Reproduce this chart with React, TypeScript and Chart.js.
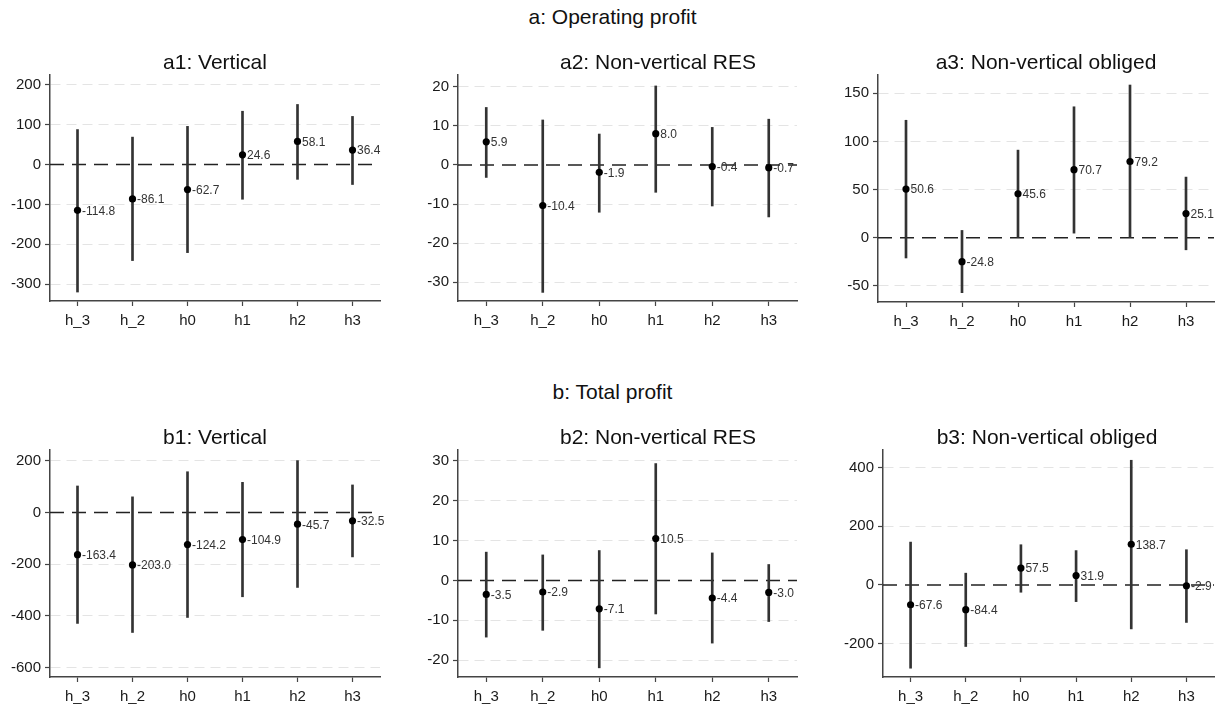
import React, { useEffect, useRef } from "react";
import { Chart, registerables } from "chart.js";

Chart.register(...registerables);

// ---------- data ----------
const categories = ["h_3", "h_2", "h0", "h1", "h2", "h3"];

// a: Operating profit
const a1Est = [-114.8, -86.1, -62.7, 24.6, 58.1, 36.4];
const a1Lo = [-320, -241, -221, -87, -37, -50];
const a1Hi = [88, 69, 96, 134, 151, 121];

const a2Est = [5.9, -10.4, -1.9, 8.0, -0.4, -0.7];
const a2Lo = [-3.2, -32.6, -12.1, -7.0, -10.5, -13.3];
const a2Hi = [14.7, 11.5, 7.9, 20.2, 9.6, 11.7];

const a3Est = [50.6, -24.8, 45.6, 70.7, 79.2, 25.1];
const a3Lo = [-21, -57, 0.3, 4.8, 0.2, -12.5];
const a3Hi = [122, 7.6, 91, 136, 158.6, 63];

// b: Total profit
const b1Est = [-163.4, -203.0, -124.2, -104.9, -45.7, -32.5];
const b1Lo = [-429, -464, -406, -326, -290, -172];
const b1Hi = [102, 60, 157, 116, 200, 106];

const b2Est = [-3.5, -2.9, -7.1, 10.5, -4.4, -3.0];
const b2Lo = [-14.2, -12.5, -21.9, -8.4, -15.7, -10.3];
const b2Hi = [7.1, 6.4, 7.5, 29.3, 6.9, 4.0];

const b3Est = [-67.6, -84.4, 57.5, 31.9, 138.7, -2.9];
const b3Lo = [-284, -210, -25, -57, -150, -128];
const b3Hi = [146, 40, 137, 117, 425, 120];

// y tick labels
const a1Ticks = [-300, -200, -100, 0, 100, 200];
const a2Ticks = [-30, -20, -10, 0, 10, 20];
const a3Ticks = [-50, 0, 50, 100, 150];
const b1Ticks = [-600, -400, -200, 0, 200];
const b2Ticks = [-20, -10, 0, 10, 20, 30];
const b3Ticks = [-200, 0, 200, 400];

// axis ranges
const a1Range = [-342.5, 225];
const a2Range = [-34.8, 23];
const a3Range = [-66.7, 169];
const b1Range = [-636, 241];
const b2Range = [-24.2, 32.7];
const b3Range = [-314, 460];

const FONT = "'Liberation Sans', Arial, Helvetica, sans-serif";
const AXIS_COLOR = "#444";

type PanelProps = {
  title: string;
  titleX: number;
  titleY: number;
  est: number[];
  lo: number[];
  hi: number[];
  ticks: number[];
  range: number[];
  left: number;
  top: number;
  right: number;
  bottom: number;
};

const zeroLine = {
  id: "zeroLine",
  beforeDatasetsDraw(chart: any) {
    const { ctx, chartArea, scales } = chart;
    const py = scales.y.getPixelForValue(0);
    ctx.save();
    ctx.strokeStyle = "#222";
    ctx.lineWidth = 1.5;
    ctx.setLineDash([14, 8]);
    ctx.beginPath();
    ctx.moveTo(chartArea.left, py);
    ctx.lineTo(chartArea.right, py);
    ctx.stroke();
    ctx.restore();
  },
};

const valueLabels = {
  id: "valueLabels",
  afterDatasetsDraw(chart: any) {
    const { ctx } = chart;
    const meta = chart.getDatasetMeta(0);
    const vals = chart.data.datasets[0].data as number[];
    ctx.save();
    ctx.font = `12px ${FONT}`;
    ctx.fillStyle = "#333";
    ctx.textAlign = "left";
    ctx.textBaseline = "middle";
    meta.data.forEach((pt: any, i: number) => {
      ctx.fillText(vals[i].toFixed(1), pt.x + 4.5, pt.y + 1);
    });
    ctx.restore();
  },
};

function Panel(p: PanelProps) {
  const ref = useRef<HTMLCanvasElement>(null);
  const YW = 50;
  const XH = 40;
  const PT = 15;
  const PR = 40;
  const pw = Math.round(p.right - p.left);
  const ph = Math.round(p.bottom - p.top);
  const w = pw + YW + PR;
  const h = ph + PT + XH;

  useEffect(() => {
    if (!ref.current) return;
    const chart = new Chart(ref.current, {
      type: "bar",
      data: {
        labels: categories,
        datasets: [
          {
            type: "line",
            data: p.est,
            showLine: false,
            pointRadius: 3.6,
            pointHoverRadius: 3.6,
            pointBackgroundColor: "#000",
            pointBorderWidth: 0,
            borderColor: "#000",
            order: 0,
          } as any,
          {
            type: "bar",
            data: p.lo.map((l, i) => [l, p.hi[i]]),
            backgroundColor: "#333",
            barThickness: 2,
            borderWidth: 0,
            order: 1,
          } as any,
        ],
      },
      options: {
        responsive: false,
        animation: false,
        devicePixelRatio: 1,
        layout: { padding: { top: PT, right: PR, left: 0, bottom: 0 } },
        plugins: {
          legend: { display: false },
          tooltip: { enabled: false },
          title: { display: false },
        },
        scales: {
          x: {
            type: "category",
            offset: true,
            grid: {
              display: true,
              drawOnChartArea: false,
              drawTicks: true,
              tickLength: 5,
              tickColor: AXIS_COLOR,
              tickWidth: 1.2,
              offset: false,
            },
            border: { display: true, color: AXIS_COLOR, width: 1.5 },
            ticks: {
              font: { family: FONT, size: 15 },
              color: "#1a1a1a",
              padding: 6,
              maxRotation: 0,
              autoSkip: false,
            },
            afterFit: (s: any) => {
              s.height = XH;
            },
          },
          y: {
            type: "linear",
            min: p.range[0],
            max: p.range[1],
            grid: {
              color: (c: any) =>
                c.tick && c.tick.value === 0 ? "rgba(0,0,0,0)" : "#e4e4e4",
              lineWidth: 1,
              drawTicks: true,
              tickLength: 5,
              tickColor: AXIS_COLOR,
              tickWidth: 1.2,
            },
            border: { display: true, color: AXIS_COLOR, width: 1.5, dash: [10, 6] },
            ticks: {
              font: { family: FONT, size: 15 },
              color: "#1a1a1a",
              padding: 4,
              callback: (v: any) => String(v),
            },
            afterBuildTicks: (s: any) => {
              s.ticks = p.ticks.map((v) => ({ value: v }));
            },
            afterFit: (s: any) => {
              s.width = YW;
            },
          },
        },
      } as any,
      plugins: [zeroLine, valueLabels],
    });
    return () => chart.destroy();
  }, []);

  return (
    <>
      <canvas
        ref={ref}
        width={w}
        height={h}
        style={{
          position: "absolute",
          left: Math.round(p.left) - YW,
          top: Math.round(p.top) - PT,
          width: w,
          height: h,
        }}
      />
      <div
        style={{
          position: "absolute",
          left: p.titleX - 160,
          width: 320,
          top: p.titleY - 12,
          height: 24,
          lineHeight: "24px",
          textAlign: "center",
          fontSize: 21,
          color: "#111",
        }}
      >
        {p.title}
      </div>
    </>
  );
}

const panels: PanelProps[] = [
  { title: "a1: Vertical", titleX: 215, titleY: 62, est: a1Est, lo: a1Lo, hi: a1Hi, ticks: a1Ticks, range: a1Range, left: 50, top: 75, right: 380, bottom: 301 },
  { title: "a2: Non-vertical RES", titleX: 658, titleY: 62, est: a2Est, lo: a2Lo, hi: a2Hi, ticks: a2Ticks, range: a2Range, left: 458, top: 75, right: 797, bottom: 301 },
  { title: "a3: Non-vertical obliged", titleX: 1046, titleY: 62, est: a3Est, lo: a3Lo, hi: a3Hi, ticks: a3Ticks, range: a3Range, left: 878, top: 75, right: 1214, bottom: 302 },
  { title: "b1: Vertical", titleX: 215, titleY: 437, est: b1Est, lo: b1Lo, hi: b1Hi, ticks: b1Ticks, range: b1Range, left: 50, top: 450, right: 380, bottom: 677 },
  { title: "b2: Non-vertical RES", titleX: 658, titleY: 437, est: b2Est, lo: b2Lo, hi: b2Hi, ticks: b2Ticks, range: b2Range, left: 458, top: 450, right: 797, bottom: 677 },
  { title: "b3: Non-vertical obliged", titleX: 1047, titleY: 437, est: b3Est, lo: b3Lo, hi: b3Hi, ticks: b3Ticks, range: b3Range, left: 883, top: 450, right: 1214, bottom: 677 },
];

export default function App() {
  return (
    <div
      style={{
        position: "fixed",
        left: 0,
        top: 0,
        width: 1225,
        height: 708,
        overflow: "hidden",
        background: "#fff",
        fontFamily: FONT,
      }}
    >
      <div style={{ position: "absolute", left: 0, width: 1225, top: 5, height: 24, lineHeight: "24px", textAlign: "center", fontSize: 21, color: "#111" }}>
        a: Operating profit
      </div>
      <div style={{ position: "absolute", left: 0, width: 1225, top: 380, height: 24, lineHeight: "24px", textAlign: "center", fontSize: 21, color: "#111" }}>
        b: Total profit
      </div>
      {panels.map((p) => (
        <Panel key={p.title} {...p} />
      ))}
    </div>
  );
}
